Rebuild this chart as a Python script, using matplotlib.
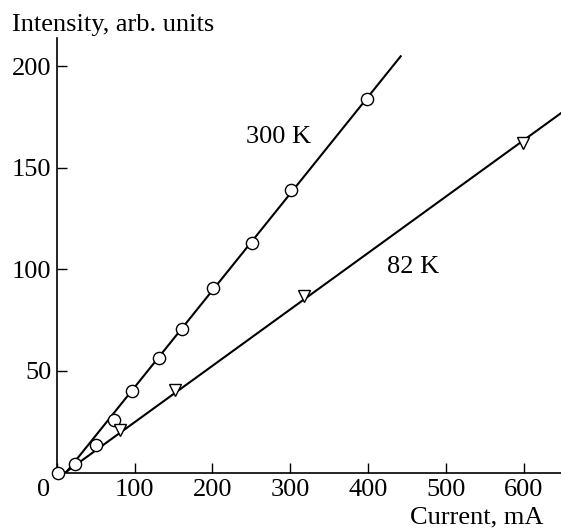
import matplotlib
matplotlib.use("Agg")
import matplotlib.pyplot as plt
import matplotlib.transforms as mtransforms

plt.rcParams['font.family'] = ['Liberation Serif', 'DejaVu Serif']
plt.rcParams['mathtext.fontset'] = 'stix'

# Data
x_300 = [2, 23, 50.5, 73, 97, 131.5, 160.5, 201, 251, 301.5, 399]
y_300 = [0, 4, 13.5, 25.8, 40, 56.5, 70.5, 91, 113, 139, 184]
fit_x_300 = [12, 442]
fit_y_300 = [0, 205]

x_82 = [81.4, 152, 318, 599]
y_82 = [21, 40.6, 87, 162.5]
fit_x_82 = [11, 648]
fit_y_82 = [0, 177]

x_ticks = [0, 100, 200, 300, 400, 500, 600]
y_ticks = [50, 100, 150, 200]
label_300 = "300 K"
label_82 = "82 K"
x_label = "Current, mA"
y_label = "Intensity, arb. units"

W, H = 561, 529
fig = plt.figure(figsize=(W / 100, H / 100), dpi=100)
ax = fig.add_axes([56.7 / W, (H - 472.5) / H, (561 - 56.7) / W, 434.5 / H])

ax.plot(fit_x_300, fit_y_300, color='black', lw=1.5, zorder=2)
ax.plot(fit_x_82, fit_y_82, color='black', lw=1.5, zorder=2)
ax.plot(x_300, y_300, linestyle='none', marker='o', ms=8.8, mfc='white',
        mec='black', mew=1.0, zorder=3, clip_on=False)
ax.plot(x_82, y_82, linestyle='none', marker='v', ms=8.8, mfc='white',
        mec='black', mew=1.0, zorder=3, clip_on=False)

ax.set_xlim(0, 648)
ax.set_ylim(0, 214)
ax.set_xticks(x_ticks)
ax.set_yticks(y_ticks)
ax.tick_params(direction='in', length=7, width=1.0, labelsize=19, pad=5)
ax.tick_params(axis='y', pad=4)
for side in ('top', 'right'):
    ax.spines[side].set_visible(False)
for side in ('left', 'bottom'):
    ax.spines[side].set_linewidth(1.2)

# shift the "0" label left of the spine like the reference
lbl0 = ax.get_xticklabels()[0]
lbl0.set_transform(lbl0.get_transform() +
                   mtransforms.ScaledTranslation(-0.135, 0, fig.dpi_scale_trans))

ax.text(243, 165.4, label_300, fontsize=19, ha='left', va='center')
ax.text(424.6, 101.4, label_82, fontsize=19, ha='left', va='center')

fig.text(11.7 / W, 1 - 31 / H, y_label, fontsize=19, ha='left', va='baseline')
fig.text(543 / W, 1 - 523.5 / H, x_label, fontsize=19, ha='right', va='baseline')

fig.savefig('out.png', dpi=100)
